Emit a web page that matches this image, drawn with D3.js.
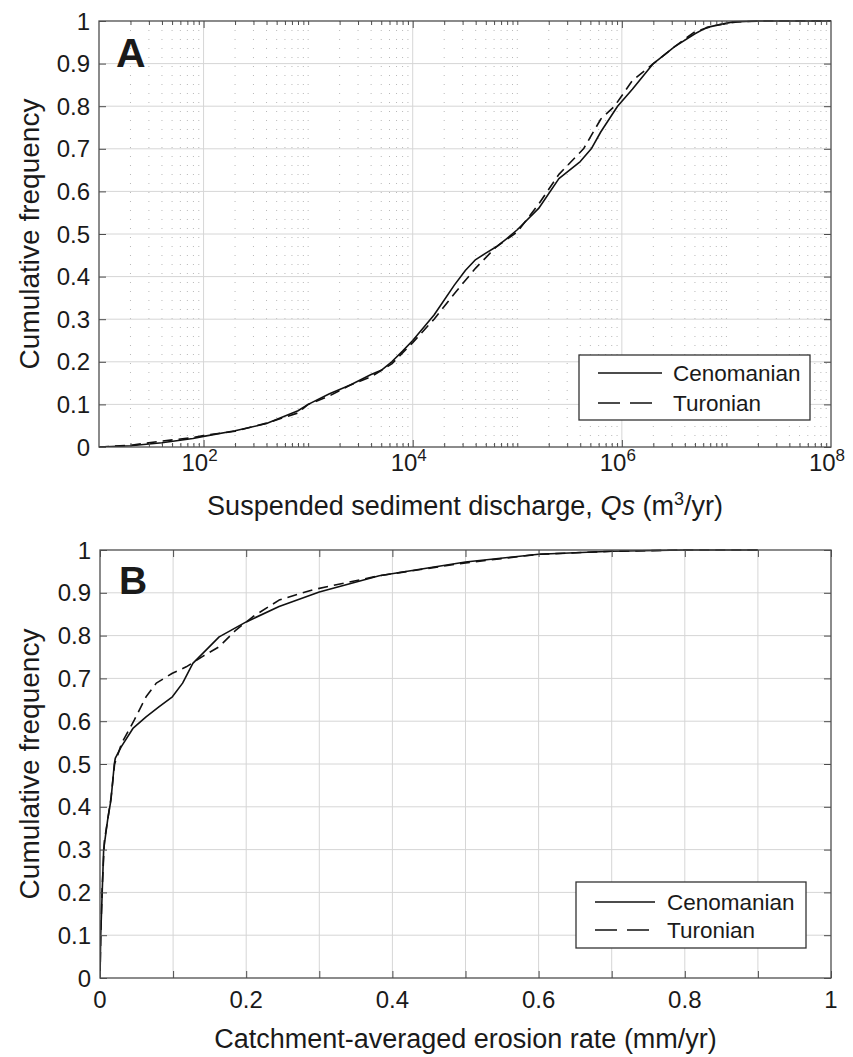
<!DOCTYPE html>
<html>
<head>
<meta charset="utf-8">
<script src="https://cdn.jsdelivr.net/npm/d3@7"></script>
<style>
  body { margin: 0; background: #fff; }
  svg text { font-family: "Liberation Sans", Arial, Helvetica, sans-serif; fill: #1a1a1a; }
</style>
</head>
<body>
<svg id="fig" width="853" height="1057"></svg>
<script>
// ---------- Panel A: suspended sediment discharge Qs (m3/yr), empirical CDFs ----------
const qsCenomanian = [10, 20, 40, 79, 100, 200, 400, 800, 1000, 1600, 2500, 4000, 5000, 6300, 8000,
  1e4, 1.6e4, 2.5e4, 3.2e4, 4e4, 5e4, 6.3e4, 8e4, 1e5, 1.6e5, 2.5e5, 4e5, 5.1e5, 6.3e5, 9.1e5,
  1.26e6, 2e6, 3.2e6, 5e6, 6.5e6, 1.15e7, 2e7, 1e8];
const cdfCenomanianA = [0, 0.003, 0.01, 0.02, 0.025, 0.038, 0.055, 0.085, 0.1, 0.125, 0.145, 0.17, 0.18, 0.2, 0.225,
  0.25, 0.31, 0.38, 0.415, 0.44, 0.455, 0.47, 0.49, 0.51, 0.56, 0.63, 0.67, 0.70, 0.74, 0.80,
  0.84, 0.90, 0.94, 0.97, 0.985, 0.998, 1.0, 1.0];

const qsTuronian = [10, 20, 40, 79, 100, 200, 400, 800, 1000, 1600, 2500, 4000, 6300,
  1e4, 1.6e4, 2.5e4, 4e4, 6.3e4, 1e5, 1.6e5, 2.5e5, 4.3e5, 6.3e5, 8.5e5,
  1.26e6, 2e6, 3.2e6, 5e6, 7.9e6, 1.26e7, 2.5e7, 1e8];
const cdfTuronianA = [0, 0.004, 0.014, 0.022, 0.027, 0.037, 0.056, 0.08, 0.1, 0.12, 0.145, 0.165, 0.195,
  0.245, 0.30, 0.36, 0.42, 0.47, 0.505, 0.57, 0.64, 0.70, 0.77, 0.80,
  0.86, 0.90, 0.94, 0.975, 0.99, 0.998, 1.0, 1.0];

const qsTickValues = [1e2, 1e4, 1e6, 1e8];
const qsTickExponents = ["2", "4", "6", "8"];

// ---------- Panel B: catchment-averaged erosion rate (mm/yr), empirical CDFs ----------
const erosionCenomanian = [0, 0.001, 0.003, 0.005, 0.0104, 0.015, 0.0196, 0.021, 0.029, 0.045, 0.063, 0.081,
  0.099, 0.113, 0.127, 0.145, 0.163, 0.2, 0.245, 0.30, 0.382, 0.5, 0.6, 0.7, 0.8, 0.9];
const cdfCenomanianB = [0, 0.1, 0.2, 0.3, 0.369, 0.416, 0.50, 0.514, 0.54, 0.583, 0.61, 0.634,
  0.657, 0.689, 0.735, 0.766, 0.797, 0.832, 0.868, 0.902, 0.94, 0.972, 0.99, 0.997, 1.0, 1.0];

const erosionTuronian = [0, 0.001, 0.003, 0.006, 0.015, 0.02, 0.03, 0.047, 0.063, 0.077, 0.099, 0.118,
  0.14, 0.163, 0.186, 0.209, 0.245, 0.291, 0.382, 0.5, 0.6, 0.7, 0.8, 0.9];
const cdfTuronianB = [0, 0.1, 0.21, 0.32, 0.42, 0.50, 0.55, 0.603, 0.657, 0.689, 0.712, 0.727,
  0.751, 0.774, 0.813, 0.844, 0.883, 0.907, 0.94, 0.97, 0.99, 0.997, 1.0, 1.0];

const erosionTicks = [0, 0.2, 0.4, 0.6, 0.8, 1];
const cdfTicks = [0, 0.1, 0.2, 0.3, 0.4, 0.5, 0.6, 0.7, 0.8, 0.9, 1];
const seriesNames = ["Cenomanian", "Turonian"];

// ---------- layout ----------
const svg = d3.select("#fig");
const boxA = { left: 99, right: 831, top: 21, bottom: 447 };
const boxB = { left: 100, right: 831, top: 550, bottom: 978 };
const gridColor = "#d6d6d6";
const axisColor = "#4d4d4d";

const xA = d3.scaleLog().domain([10, 1e8]).range([boxA.left, boxA.right]);
const yA = d3.scaleLinear().domain([0, 1]).range([boxA.bottom, boxA.top]);
const xB = d3.scaleLinear().domain([0, 1]).range([boxB.left, boxB.right]);
const yB = d3.scaleLinear().domain([0, 1]).range([boxB.bottom, boxB.top]);

function tickFmt(v) { return v === 0 || v === 1 ? String(v) : d3.format(".1f")(v); }

// ---------- panel A ----------
const gA = svg.append("g");
const minorQs = [];
for (let d = 1; d < 8; d++) for (let k = 1; k <= 9; k++) {
  const v = k * Math.pow(10, d);
  if (k === 1 && d % 2 === 0) continue;
  if (v > 10 && v < 1e8) minorQs.push(v);
}
// dotted minor grid
gA.append("g").selectAll("line").data(minorQs).join("line")
  .attr("x1", d => xA(d)).attr("x2", d => xA(d))
  .attr("y1", boxA.top).attr("y2", boxA.bottom)
  .attr("stroke", "#b8b8b8").attr("stroke-width", 1).attr("stroke-dasharray", "1,8");
// major grid
gA.append("g").selectAll("line").data([1e2, 1e4, 1e6]).join("line")
  .attr("x1", d => xA(d)).attr("x2", d => xA(d))
  .attr("y1", boxA.top).attr("y2", boxA.bottom)
  .attr("stroke", gridColor).attr("stroke-width", 1);
gA.append("g").selectAll("line").data(cdfTicks.slice(1, -1)).join("line")
  .attr("x1", boxA.left).attr("x2", boxA.right)
  .attr("y1", d => yA(d)).attr("y2", d => yA(d))
  .attr("stroke", gridColor).attr("stroke-width", 1);

// ---------- panel B grid ----------
const gB = svg.append("g");
const tenths = d3.range(1, 10).map(i => i / 10);
gB.append("g").selectAll("line").data(tenths).join("line")
  .attr("x1", d => xB(d)).attr("x2", d => xB(d))
  .attr("y1", boxB.top).attr("y2", boxB.bottom)
  .attr("stroke", gridColor).attr("stroke-width", 1);
gB.append("g").selectAll("line").data(tenths).join("line")
  .attr("x1", boxB.left).attr("x2", boxB.right)
  .attr("y1", d => yB(d)).attr("y2", d => yB(d))
  .attr("stroke", gridColor).attr("stroke-width", 1);

// ---------- axes (ticks pointing inward on all four sides) ----------
function styleAxis(g) {
  g.select(".domain").remove();
  g.selectAll(".tick line").attr("stroke", axisColor).attr("stroke-width", 1);
  g.selectAll(".tick text").remove();
}
// panel A
svg.append("g").attr("transform", `translate(0,${boxA.bottom})`)
  .call(d3.axisBottom(xA).tickValues(qsTickValues.slice(0, 3)).tickSize(-7).tickFormat("")).call(styleAxis);
svg.append("g").attr("transform", `translate(0,${boxA.bottom})`)
  .call(d3.axisBottom(xA).tickValues(minorQs).tickSize(-4).tickFormat("")).call(styleAxis);
svg.append("g").attr("transform", `translate(0,${boxA.top})`)
  .call(d3.axisTop(xA).tickValues(qsTickValues.slice(0, 3)).tickSize(-7).tickFormat("")).call(styleAxis);
svg.append("g").attr("transform", `translate(0,${boxA.top})`)
  .call(d3.axisTop(xA).tickValues(minorQs).tickSize(-4).tickFormat("")).call(styleAxis);
svg.append("g").attr("transform", `translate(${boxA.left},0)`)
  .call(d3.axisLeft(yA).tickValues(cdfTicks).tickSize(-7)).call(styleAxis);
svg.append("g").attr("transform", `translate(${boxA.right},0)`)
  .call(d3.axisRight(yA).tickValues(cdfTicks).tickSize(-7)).call(styleAxis);
// panel B
svg.append("g").attr("transform", `translate(0,${boxB.bottom})`)
  .call(d3.axisBottom(xB).tickValues(d3.range(0, 11).map(i => i / 10)).tickSize(-7)).call(styleAxis);
svg.append("g").attr("transform", `translate(0,${boxB.top})`)
  .call(d3.axisTop(xB).tickValues(d3.range(0, 11).map(i => i / 10)).tickSize(-7)).call(styleAxis);
svg.append("g").attr("transform", `translate(${boxB.left},0)`)
  .call(d3.axisLeft(yB).tickValues(cdfTicks).tickSize(-7)).call(styleAxis);
svg.append("g").attr("transform", `translate(${boxB.right},0)`)
  .call(d3.axisRight(yB).tickValues(cdfTicks).tickSize(-7)).call(styleAxis);

// ---------- curves ----------
function drawCurve(g, xs, ys, xScale, yScale, dash, clipId, box) {
  g.append("clipPath").attr("id", clipId).append("rect")
    .attr("x", box.left).attr("y", box.top - 1)
    .attr("width", box.right - box.left).attr("height", box.bottom - box.top + 1);
  const line = d3.line().x(d => xScale(d[0])).y(d => yScale(d[1]));
  g.append("path").datum(d3.zip(xs, ys))
    .attr("d", line).attr("fill", "none")
    .attr("stroke", "#111").attr("stroke-width", 1.6)
    .attr("stroke-dasharray", dash)
    .attr("stroke-linejoin", "round")
    .attr("clip-path", `url(#${clipId})`);
}
drawCurve(gA, qsCenomanian, cdfCenomanianA, xA, yA, null, "clipA1", boxA);
drawCurve(gA, qsTuronian, cdfTuronianA, xA, yA, "10,6", "clipA2", boxA);
drawCurve(gB, erosionCenomanian, cdfCenomanianB, xB, yB, null, "clipB1", boxB);
drawCurve(gB, erosionTuronian, cdfTuronianB, xB, yB, "10,6", "clipB2", boxB);

// ---------- frames ----------
[boxA, boxB].forEach(b => {
  svg.append("rect").attr("x", b.left).attr("y", b.top)
    .attr("width", b.right - b.left).attr("height", b.bottom - b.top)
    .attr("fill", "none").attr("stroke", axisColor).attr("stroke-width", 1.3);
});

// ---------- tick labels ----------
const tickFont = 24;
[[yA, boxA], [yB, boxB]].forEach(([ys, b]) => {
  svg.append("g").selectAll("text").data(cdfTicks).join("text")
    .attr("x", b.left - 9).attr("y", d => ys(d)).attr("dy", "0.36em")
    .attr("text-anchor", "end").attr("font-size", tickFont).text(tickFmt);
});
const qsLbl = svg.append("g").selectAll("text").data(qsTickValues).join("text")
  .attr("x", (d, i) => xA(d) - 4).attr("y", boxA.bottom + 24)
  .attr("text-anchor", "middle").attr("font-size", tickFont);
qsLbl.append("tspan").text("10");
qsLbl.append("tspan").attr("dy", -10).attr("font-size", 17).text((d, i) => qsTickExponents[i]);
svg.append("g").selectAll("text").data(erosionTicks).join("text")
  .attr("x", d => xB(d)).attr("y", boxB.bottom + 30)
  .attr("text-anchor", "middle").attr("font-size", tickFont).text(d => d === 0 || d === 1 ? String(d) : d3.format(".1f")(d));

// ---------- axis titles ----------
const titleFont = 27;
const tA = svg.append("text").attr("x", (boxA.left + boxA.right) / 2).attr("y", 515)
  .attr("text-anchor", "middle").attr("font-size", titleFont);
tA.append("tspan").text("Suspended sediment discharge, ");
tA.append("tspan").attr("font-style", "italic").text("Qs");
tA.append("tspan").text(" (m");
tA.append("tspan").attr("dy", -10).attr("font-size", 18).text("3");
tA.append("tspan").attr("dy", 10).text("/yr)");
svg.append("text").attr("x", (boxB.left + boxB.right) / 2).attr("y", 1048)
  .attr("text-anchor", "middle").attr("font-size", titleFont)
  .text("Catchment-averaged erosion rate (mm/yr)");
[boxA, boxB].forEach(b => {
  svg.append("text")
    .attr("transform", `translate(39,${(b.top + b.bottom) / 2}) rotate(-90)`)
    .attr("text-anchor", "middle").attr("font-size", 28).text("Cumulative frequency");
});

// ---------- panel letters ----------
svg.append("text").attr("x", 116).attr("y", 67).attr("font-size", 41).attr("font-weight", "bold").text("A");
svg.append("text").attr("x", 119).attr("y", 594).attr("font-size", 39).attr("font-weight", "bold").text("B");

// ---------- legends ----------
function legend(box, lineX1, lineX2, textX, y1, y2) {
  const g = svg.append("g");
  g.append("rect").attr("x", box[0]).attr("y", box[1]).attr("width", box[2]).attr("height", box[3])
    .attr("fill", "#fff").attr("stroke", "#333").attr("stroke-width", 1.3);
  [y1, y2].forEach((y, i) => {
    g.append("line").attr("x1", lineX1).attr("x2", lineX2).attr("y1", y).attr("y2", y)
      .attr("stroke", "#111").attr("stroke-width", 1.5)
      .attr("stroke-dasharray", i === 1 ? "22,10" : null);
    g.append("text").attr("x", textX).attr("y", y).attr("dy", "0.36em")
      .attr("font-size", 22.5).text(seriesNames[i]);
  });
}
legend([579, 355, 231, 65], 598, 662, 673, 373, 403);
legend([576, 882, 230, 66], 595, 655, 667, 902, 930);
</script>
</body>
</html>
